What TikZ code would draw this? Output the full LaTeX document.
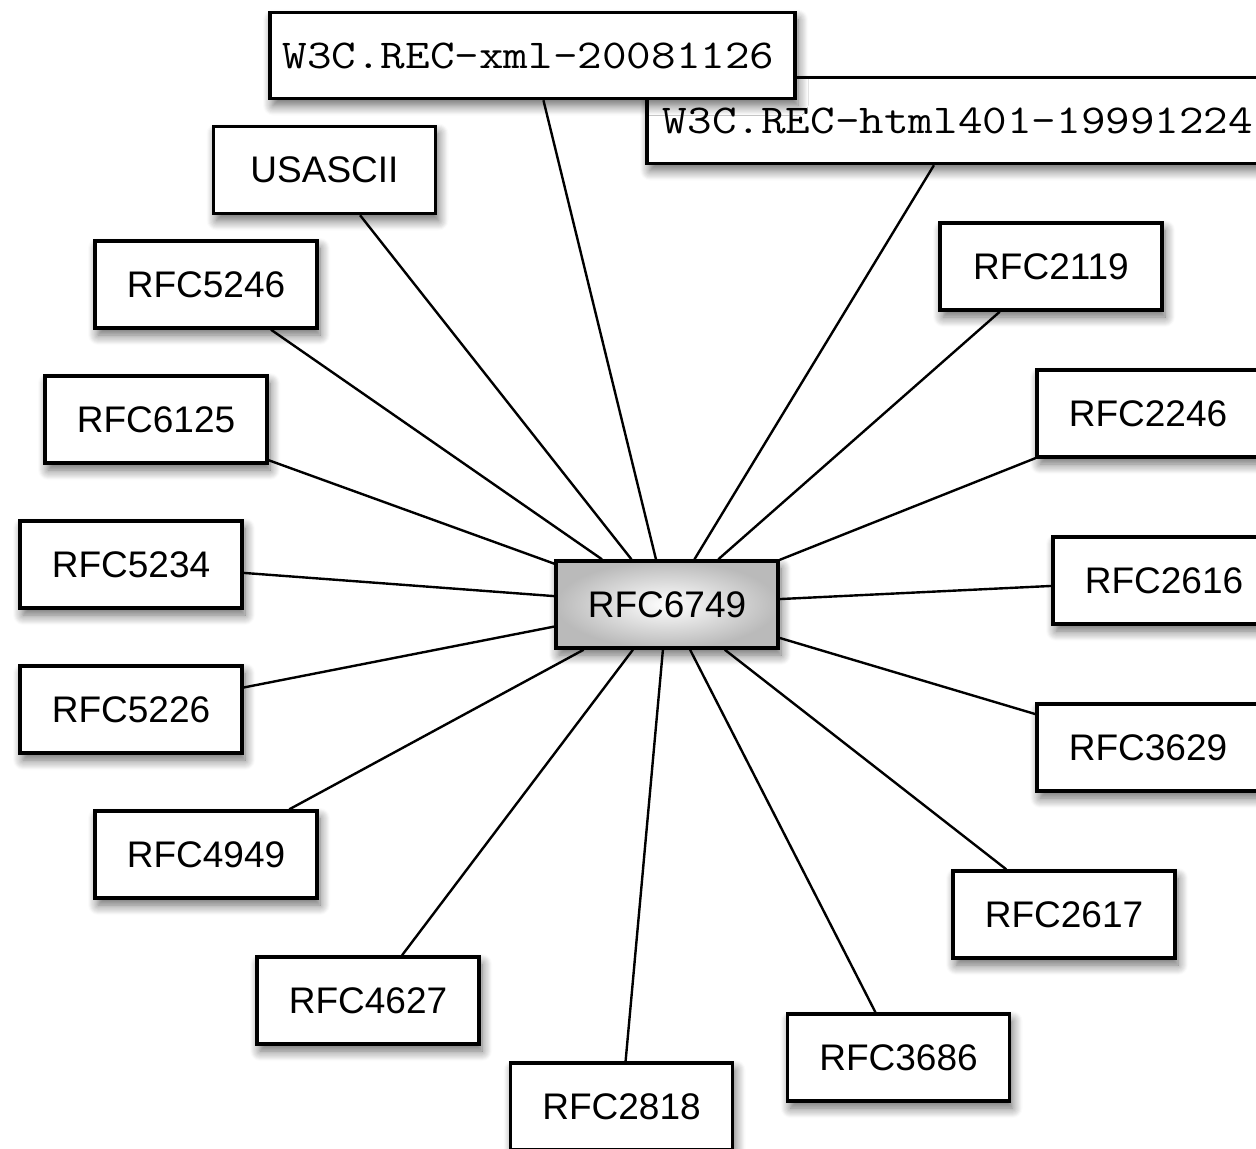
\documentclass[tikz,border=0pt]{standalone}
\usepackage{fontspec}
\usepackage{graphicx}
\setmainfont{Liberation Sans}
\usetikzlibrary{shadows.blur}
\newcommand{\wmono}[1]{\scalebox{1.165}[1]{#1}}
\tikzset{
  box/.style={draw=black, line width=1.7pt, fill=white, minimum width=111pt, minimum height=43.5pt,
    inner sep=0pt, font=\fontsize{18.5}{20}\selectfont,
    blur shadow={shadow xshift=1.5pt, shadow yshift=-3.5pt, shadow blur radius=5pt, shadow blur steps=10, shadow opacity=60}},
  monobox/.style={box, font=\ttfamily\fontsize{20.5}{22}\selectfont, minimum height=43pt},
  hub/.style={box, inner color=white, outer color=black!27},
  link/.style={line width=1.2pt, black}
}
\begin{document}
\begin{tikzpicture}[x=0.5pt,y=-0.5pt]
\path[use as bounding box, clip] (0,0) rectangle (1256,1148);
\node[monobox, minimum width=314pt] (html) at (961,120.5) {\hspace*{-3pt}\wmono{W3C.REC-html401-19991224}};
\node[monobox, minimum width=262.5pt] (xml) at (532.5,55.5) {\hspace*{-4pt}\wmono{W3C.REC-xml-20081126}};
\node[box] (usascii) at (324.5,170) {USASCII};
\node[box] (r5246) at (206,284.5) {RFC5246};
\node[box] (r6125) at (156,419.5) {RFC6125};
\node[box] (r5234) at (131,564.5) {RFC5234};
\node[box] (r5226) at (131,709.5) {RFC5226};
\node[box] (r4949) at (206,854.5) {RFC4949};
\node[box] (r4627) at (368,1000.5) {RFC4627};
\node[box] (r2818) at (621.5,1106.5) {RFC2818};
\node[box] (r3686) at (898.5,1057.5) {RFC3686};
\node[box] (r2617) at (1064,914.5) {RFC2617};
\node[box] (r3629) at (1148,747.5) {RFC3629};
\node[box] (r2616) at (1164,580.5) {RFC2616};
\node[box] (r2246) at (1148,413.5) {RFC2246};
\node[box] (r2119) at (1051,266.5) {RFC2119};
\node[hub] (c) at (667,604.5) {RFC6749};
\foreach \n in {html,xml,usascii,r5246,r6125,r5234,r5226,r4949,r4627,r2818,r3686,r2617,r3629,r2616,r2246,r2119}
  \draw[link] (c) -- (\n);
\end{tikzpicture}
\end{document}
